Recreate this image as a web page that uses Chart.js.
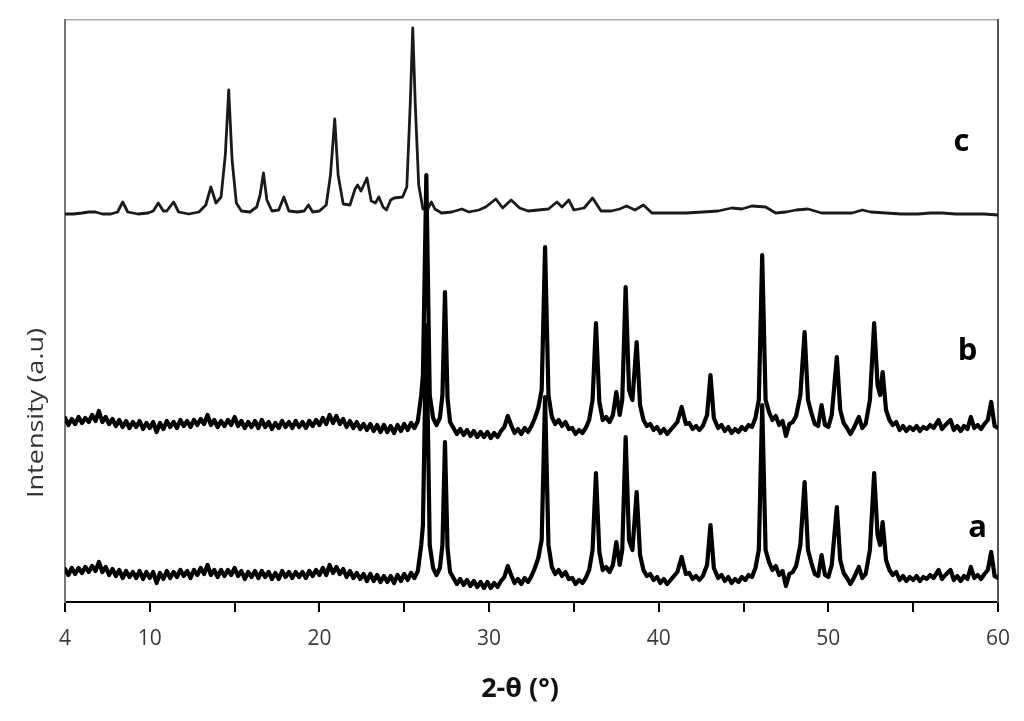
<!DOCTYPE html>
<html>
<head>
<meta charset="utf-8">
<script src="https://cdn.jsdelivr.net/npm/chart.js@4.4.1/dist/chart.umd.min.js"></script>
<style>
  html, body { margin: 0; padding: 0; background: #fff; }
</style>
</head>
<body>
<canvas id="xrd-chart" width="1024" height="721"></canvas>
<script>
// x axis: marks every 5 deg, the first one is printed as "4" in the original figure
const tickValues = [5, 10, 20, 30, 40, 50, 60];
const tickLabels = ["4", "10", "20", "30", "40", "50", "60"];

// trace names and the level each pattern is stacked at (a.u.)
const traceNames = ["a", "b", "c"];
const traceOffsets = [22, 172, 387];

// [2-theta, intensity above the trace's own baseline]
const traceC = [
  [5.0,1],[5.5,1],[6.0,2],[6.4,3],[6.8,3],[7.2,1],[7.7,1],[8.1,3],[8.4,13],[8.7,3],
  [9.3,1],[9.9,2],[10.2,4],[10.5,12],[10.8,4],[11.0,4],[11.4,13],[11.7,3],[12.3,1],[12.9,3],
  [13.3,10],[13.6,28],[13.9,12],[14.2,18],[14.45,60],[14.65,125],[14.85,55],[15.1,12],[15.4,4],[15.9,3],
  [16.3,8],[16.5,20],[16.7,42],[16.9,15],[17.2,4],[17.6,5],[17.9,18],[18.2,4],[18.7,3],[19.1,4],
  [19.35,10],[19.6,3],[20.0,4],[20.4,10],[20.65,40],[20.9,96],[21.1,40],[21.4,11],[21.8,10],[22.1,26],
  [22.25,30],[22.45,24],[22.8,37],[23.05,14],[23.3,12],[23.5,18],[23.75,8],[23.95,5],[24.2,15],[24.4,17],
  [24.9,18],[25.15,28],[25.35,110],[25.5,187],[25.65,110],[25.85,30],[26.1,6],[26.35,5],[26.6,13],[26.8,6],
  [27.2,2],[27.8,3],[28.4,6],[28.8,3],[29.4,5],[29.8,8],[30.4,16],[30.8,7],[31.3,15],[31.8,7],
  [32.3,4],[32.9,5],[33.5,6],[34.0,13],[34.3,8],[34.7,15],[35.0,5],[35.6,7],[36.1,17],[36.6,4],
  [37.2,4],[37.7,6],[38.1,9],[38.6,5],[39.1,10],[39.6,2],[40.5,2],[41.6,2],[42.6,3],[43.5,4],
  [44.3,7],[44.9,6],[45.5,9],[46.3,8],[46.9,2],[47.5,3],[48.1,5],[48.8,6],[49.6,2],[50.5,2],
  [51.4,2],[52.0,5],[52.5,3],[53.4,2],[54.3,1],[55.3,1],[56.0,2],[56.7,2],[57.5,1],[58.3,1],
  [59.2,1],[60.0,0]
];

const traceB = [
  [5.0,12],[5.2,5],[5.4,11],[5.6,6],[5.8,13],[6.0,7],[6.2,12],[6.4,8],[6.6,15],[6.8,9],
  [7.0,19],[7.2,8],[7.4,13],[7.6,6],[7.8,11],[8.0,4],[8.2,10],[8.4,3],[8.6,9],[8.8,2],
  [9.0,8],[9.2,3],[9.4,9],[9.6,1],[9.8,7],[10.0,2],[10.2,8],[10.4,-2],[10.6,7],[10.8,1],
  [11.0,9],[11.2,3],[11.4,8],[11.6,2],[11.8,10],[12.0,4],[12.2,9],[12.4,3],[12.6,10],[12.8,5],
  [13.0,11],[13.2,6],[13.4,15],[13.6,5],[13.8,10],[14.0,3],[14.2,9],[14.4,4],[14.6,10],[14.8,5],
  [15.0,13],[15.2,4],[15.4,9],[15.6,2],[15.8,8],[16.0,3],[16.2,9],[16.4,2],[16.6,10],[16.8,3],
  [17.0,8],[17.2,1],[17.4,7],[17.6,2],[17.8,9],[18.0,3],[18.2,8],[18.4,2],[18.6,9],[18.8,3],
  [19.0,8],[19.2,2],[19.4,9],[19.6,4],[19.8,10],[20.0,5],[20.2,12],[20.4,6],[20.6,15],[20.8,7],
  [21.0,14],[21.2,6],[21.4,11],[21.6,3],[21.8,9],[22.0,2],[22.2,8],[22.4,1],[22.6,6],[22.8,0],
  [23.0,6],[23.2,-1],[23.4,5],[23.6,-2],[23.8,5],[24.0,-2],[24.2,4],[24.4,-3],[24.6,5],[24.8,-1],
  [25.0,6],[25.2,0],[25.4,7],[25.6,2],[25.8,9],[26.0,35],[26.1,55],[26.3,255],[26.5,35],[26.7,12],
  [26.9,5],[27.1,12],[27.25,35],[27.4,138],[27.55,32],[27.7,8],[27.9,2],[28.1,-4],[28.3,1],[28.5,-5],
  [28.7,0],[28.9,-6],[29.1,-1],[29.3,-7],[29.5,-2],[29.7,-7],[29.9,-2],[30.1,-8],[30.3,-3],[30.5,-7],
  [30.7,-1],[30.9,3],[31.1,14],[31.3,5],[31.5,-3],[31.7,1],[31.9,-4],[32.1,2],[32.3,-2],[32.5,4],
  [32.7,12],[32.9,22],[33.1,40],[33.3,183],[33.5,35],[33.7,13],[33.9,6],[34.1,10],[34.3,4],[34.5,8],
  [34.7,1],[34.9,2],[35.1,-4],[35.3,0],[35.5,-3],[35.7,2],[35.9,10],[36.1,30],[36.3,107],[36.5,28],
  [36.7,10],[36.9,13],[37.1,8],[37.3,15],[37.5,38],[37.7,15],[37.85,30],[38.05,143],[38.25,40],[38.45,30],
  [38.7,88],[38.9,25],[39.1,10],[39.3,4],[39.5,6],[39.7,0],[39.9,3],[40.1,-3],[40.3,1],[40.5,-4],
  [40.7,0],[40.9,4],[41.1,8],[41.35,23],[41.6,6],[41.8,7],[42.0,1],[42.2,4],[42.4,0],[42.6,4],
  [42.85,15],[43.05,55],[43.25,12],[43.5,2],[43.7,5],[43.9,-1],[44.1,3],[44.3,-3],[44.5,1],[44.7,-2],
  [44.9,3],[45.1,0],[45.3,5],[45.5,3],[45.7,12],[45.9,30],[46.1,175],[46.3,30],[46.5,18],[46.7,10],
  [46.9,14],[47.1,5],[47.3,9],[47.5,-6],[47.7,6],[47.9,8],[48.1,14],[48.35,35],[48.6,98],[48.8,30],
  [49.0,17],[49.2,6],[49.4,4],[49.6,25],[49.8,5],[50.0,3],[50.2,15],[50.5,73],[50.7,20],[50.9,7],
  [51.1,2],[51.3,-4],[51.5,2],[51.8,13],[52.0,2],[52.2,6],[52.45,30],[52.7,107],[52.9,45],[53.05,35],
  [53.2,58],[53.4,20],[53.6,10],[53.8,5],[54.0,8],[54.2,0],[54.4,4],[54.6,-1],[54.8,3],[55.0,0],
  [55.2,4],[55.4,-1],[55.6,3],[55.8,1],[56.0,5],[56.2,2],[56.5,10],[56.7,1],[56.9,5],[57.2,10],
  [57.4,0],[57.6,4],[57.8,-1],[58.0,4],[58.2,1],[58.4,13],[58.6,2],[58.8,5],[59.0,1],[59.2,6],
  [59.4,10],[59.6,28],[59.8,4],[60.0,2]
];

const traceA = [
  [5.0,11],[5.2,5],[5.4,12],[5.6,6],[5.8,12],[6.0,7],[6.2,13],[6.4,8],[6.6,14],[6.8,9],
  [7.0,18],[7.2,8],[7.4,13],[7.6,5],[7.8,11],[8.0,4],[8.2,10],[8.4,2],[8.6,9],[8.8,3],
  [9.0,8],[9.2,2],[9.4,9],[9.6,1],[9.8,8],[10.0,2],[10.2,8],[10.4,-3],[10.6,7],[10.8,1],
  [11.0,9],[11.2,2],[11.4,8],[11.6,3],[11.8,10],[12.0,4],[12.2,9],[12.4,2],[12.6,10],[12.8,5],
  [13.0,12],[13.2,6],[13.4,15],[13.6,5],[13.8,10],[14.0,3],[14.2,10],[14.4,4],[14.6,10],[14.8,5],
  [15.0,12],[15.2,4],[15.4,9],[15.6,1],[15.8,8],[16.0,3],[16.2,9],[16.4,2],[16.6,9],[16.8,3],
  [17.0,8],[17.2,1],[17.4,7],[17.6,1],[17.8,9],[18.0,3],[18.2,8],[18.4,2],[18.6,8],[18.8,3],
  [19.0,8],[19.2,2],[19.4,9],[19.6,4],[19.8,10],[20.0,5],[20.2,12],[20.4,5],[20.6,15],[20.8,7],
  [21.0,13],[21.2,6],[21.4,11],[21.6,3],[21.8,9],[22.0,2],[22.2,7],[22.4,1],[22.6,6],[22.8,-1],
  [23.0,6],[23.2,-1],[23.4,5],[23.6,-2],[23.8,4],[24.0,-2],[24.2,4],[24.4,-3],[24.6,5],[24.8,-1],
  [25.0,6],[25.2,0],[25.4,7],[25.6,2],[25.8,9],[26.0,35],[26.1,55],[26.3,255],[26.5,35],[26.7,12],
  [26.9,5],[27.1,12],[27.25,35],[27.4,138],[27.55,32],[27.7,8],[27.9,2],[28.1,-4],[28.3,1],[28.5,-5],
  [28.7,0],[28.9,-6],[29.1,-1],[29.3,-7],[29.5,-2],[29.7,-8],[29.9,-2],[30.1,-8],[30.3,-3],[30.5,-7],
  [30.7,-1],[30.9,3],[31.1,14],[31.3,5],[31.5,-3],[31.7,1],[31.9,-4],[32.1,2],[32.3,-2],[32.5,4],
  [32.7,12],[32.9,22],[33.1,40],[33.3,183],[33.5,35],[33.7,13],[33.9,6],[34.1,10],[34.3,4],[34.5,8],
  [34.7,1],[34.9,2],[35.1,-4],[35.3,0],[35.5,-3],[35.7,2],[35.9,10],[36.1,30],[36.3,107],[36.5,28],
  [36.7,10],[36.9,13],[37.1,8],[37.3,15],[37.5,38],[37.7,15],[37.85,30],[38.05,143],[38.25,40],[38.45,30],
  [38.7,88],[38.9,25],[39.1,10],[39.3,4],[39.5,6],[39.7,0],[39.9,3],[40.1,-3],[40.3,1],[40.5,-4],
  [40.7,0],[40.9,4],[41.1,8],[41.35,23],[41.6,6],[41.8,7],[42.0,1],[42.2,4],[42.4,0],[42.6,4],
  [42.85,15],[43.05,55],[43.25,12],[43.5,2],[43.7,5],[43.9,-1],[44.1,3],[44.3,-3],[44.5,1],[44.7,-2],
  [44.9,3],[45.1,0],[45.3,5],[45.5,3],[45.7,12],[45.9,30],[46.1,175],[46.3,30],[46.5,18],[46.7,10],
  [46.9,14],[47.1,5],[47.3,9],[47.5,-6],[47.7,6],[47.9,8],[48.1,14],[48.35,35],[48.6,98],[48.8,30],
  [49.0,17],[49.2,6],[49.4,4],[49.6,25],[49.8,5],[50.0,3],[50.2,15],[50.5,73],[50.7,20],[50.9,7],
  [51.1,2],[51.3,-4],[51.5,2],[51.8,13],[52.0,2],[52.2,6],[52.45,30],[52.7,107],[52.9,45],[53.05,35],
  [53.2,58],[53.4,20],[53.6,10],[53.8,5],[54.0,8],[54.2,0],[54.4,4],[54.6,-1],[54.8,3],[55.0,0],
  [55.2,4],[55.4,-1],[55.6,3],[55.8,1],[56.0,5],[56.2,2],[56.5,10],[56.7,1],[56.9,5],[57.2,10],
  [57.4,0],[57.6,4],[57.8,-1],[58.0,4],[58.2,1],[58.4,13],[58.6,2],[58.8,5],[59.0,1],[59.2,6],
  [59.4,10],[59.6,28],[59.8,4],[60.0,2]
];

// where the a / b / c letters sit (2-theta, level of the text baseline)
const labelTheta = [58.8, 58.2, 57.85];
const labelLevel = [65, 242, 451];

const toPoints = (trace, offset) => trace.map(([x, y]) => ({ x, y: y + offset }));

const xrdText = {
  id: "xrdText",
  afterDraw(chart) {
    const { ctx, scales } = chart;
    ctx.save();
    ctx.fillStyle = "#000";
    ctx.textAlign = "center";
    ctx.textBaseline = "alphabetic";
    ctx.font = "bold 31px 'Open Sans'";
    traceNames.forEach((name, i) => {
      ctx.fillText(name, scales.x.getPixelForValue(labelTheta[i]), scales.y.getPixelForValue(labelLevel[i]));
    });

    // x title
    ctx.font = "bold 27px 'Open Sans'";
    ctx.fillStyle = "#111";
    ctx.fillText("2-θ (°)", 520, 697);

    // y title, rotated and a bit stretched like the original
    ctx.font = "21px 'Open Sans'";
    ctx.fillStyle = "#333";
    ctx.translate(37, 413);
    ctx.rotate(-Math.PI / 2);
    const w = ctx.measureText("Intensity (a.u)").width;
    ctx.scale(170 / w, 1);
    ctx.textBaseline = "middle";
    ctx.fillText("Intensity (a.u)", 0, 0);
    ctx.restore();
  },
};

window.onload = () => {
  const ctx = document.getElementById("xrd-chart");
  new Chart(ctx, {
    type: "line",
    data: {
      datasets: [
        { label: "a", data: toPoints(traceA, traceOffsets[0]), borderColor: "#000", borderWidth: 4.2 },
        { label: "b", data: toPoints(traceB, traceOffsets[1]), borderColor: "#000", borderWidth: 4.2 },
        { label: "c", data: toPoints(traceC, traceOffsets[2]), borderColor: "#1a1a1a", borderWidth: 2.8 },
      ],
    },
    options: {
      responsive: false,
      animation: false,
      layout: { padding: 0 },
      elements: {
        point: { radius: 0 },
        line: { tension: 0, borderJoinStyle: "round", borderCapStyle: "round" },
      },
      plugins: {
        legend: { display: false },
        tooltip: { enabled: false },
      },
      scales: {
        x: {
          type: "linear",
          position: "bottom",
          min: 5,
          max: 60,
          afterFit: (s) => { s.height = 119; },
          ticks: {
            stepSize: 5,
            autoSkip: false,
            maxRotation: 0,
            padding: 14,
            color: "#3a3a3a",
            font: { family: "'Open Sans'", size: 21 },
            callback: (v) => {
              const i = tickValues.indexOf(v);
              return i >= 0 ? tickLabels[i] : "";
            },
          },
          grid: { display: true, drawOnChartArea: false, drawTicks: true, tickLength: 10, color: "#000", lineWidth: 2 },
          border: { display: true, color: "#000", width: 2 },
        },
        xTop: {
          type: "linear",
          position: "top",
          min: 5,
          max: 60,
          afterFit: (s) => { s.height = 20; },
          ticks: { display: false },
          grid: { display: false },
          border: { display: true, color: "#aaa", width: 1.5 },
        },
        y: {
          min: 0,
          max: 582,
          afterFit: (s) => { s.width = 65; },
          ticks: { display: false },
          grid: { display: false },
          border: { display: true, color: "#777", width: 2 },
        },
        yRight: {
          position: "right",
          min: 0,
          max: 582,
          afterFit: (s) => { s.width = 21; },
          ticks: { display: false },
          grid: { display: false },
          border: { display: true, color: "#555", width: 2 },
        },
      },
    },
    plugins: [xrdText],
  });
};
</script>
</body>
</html>
